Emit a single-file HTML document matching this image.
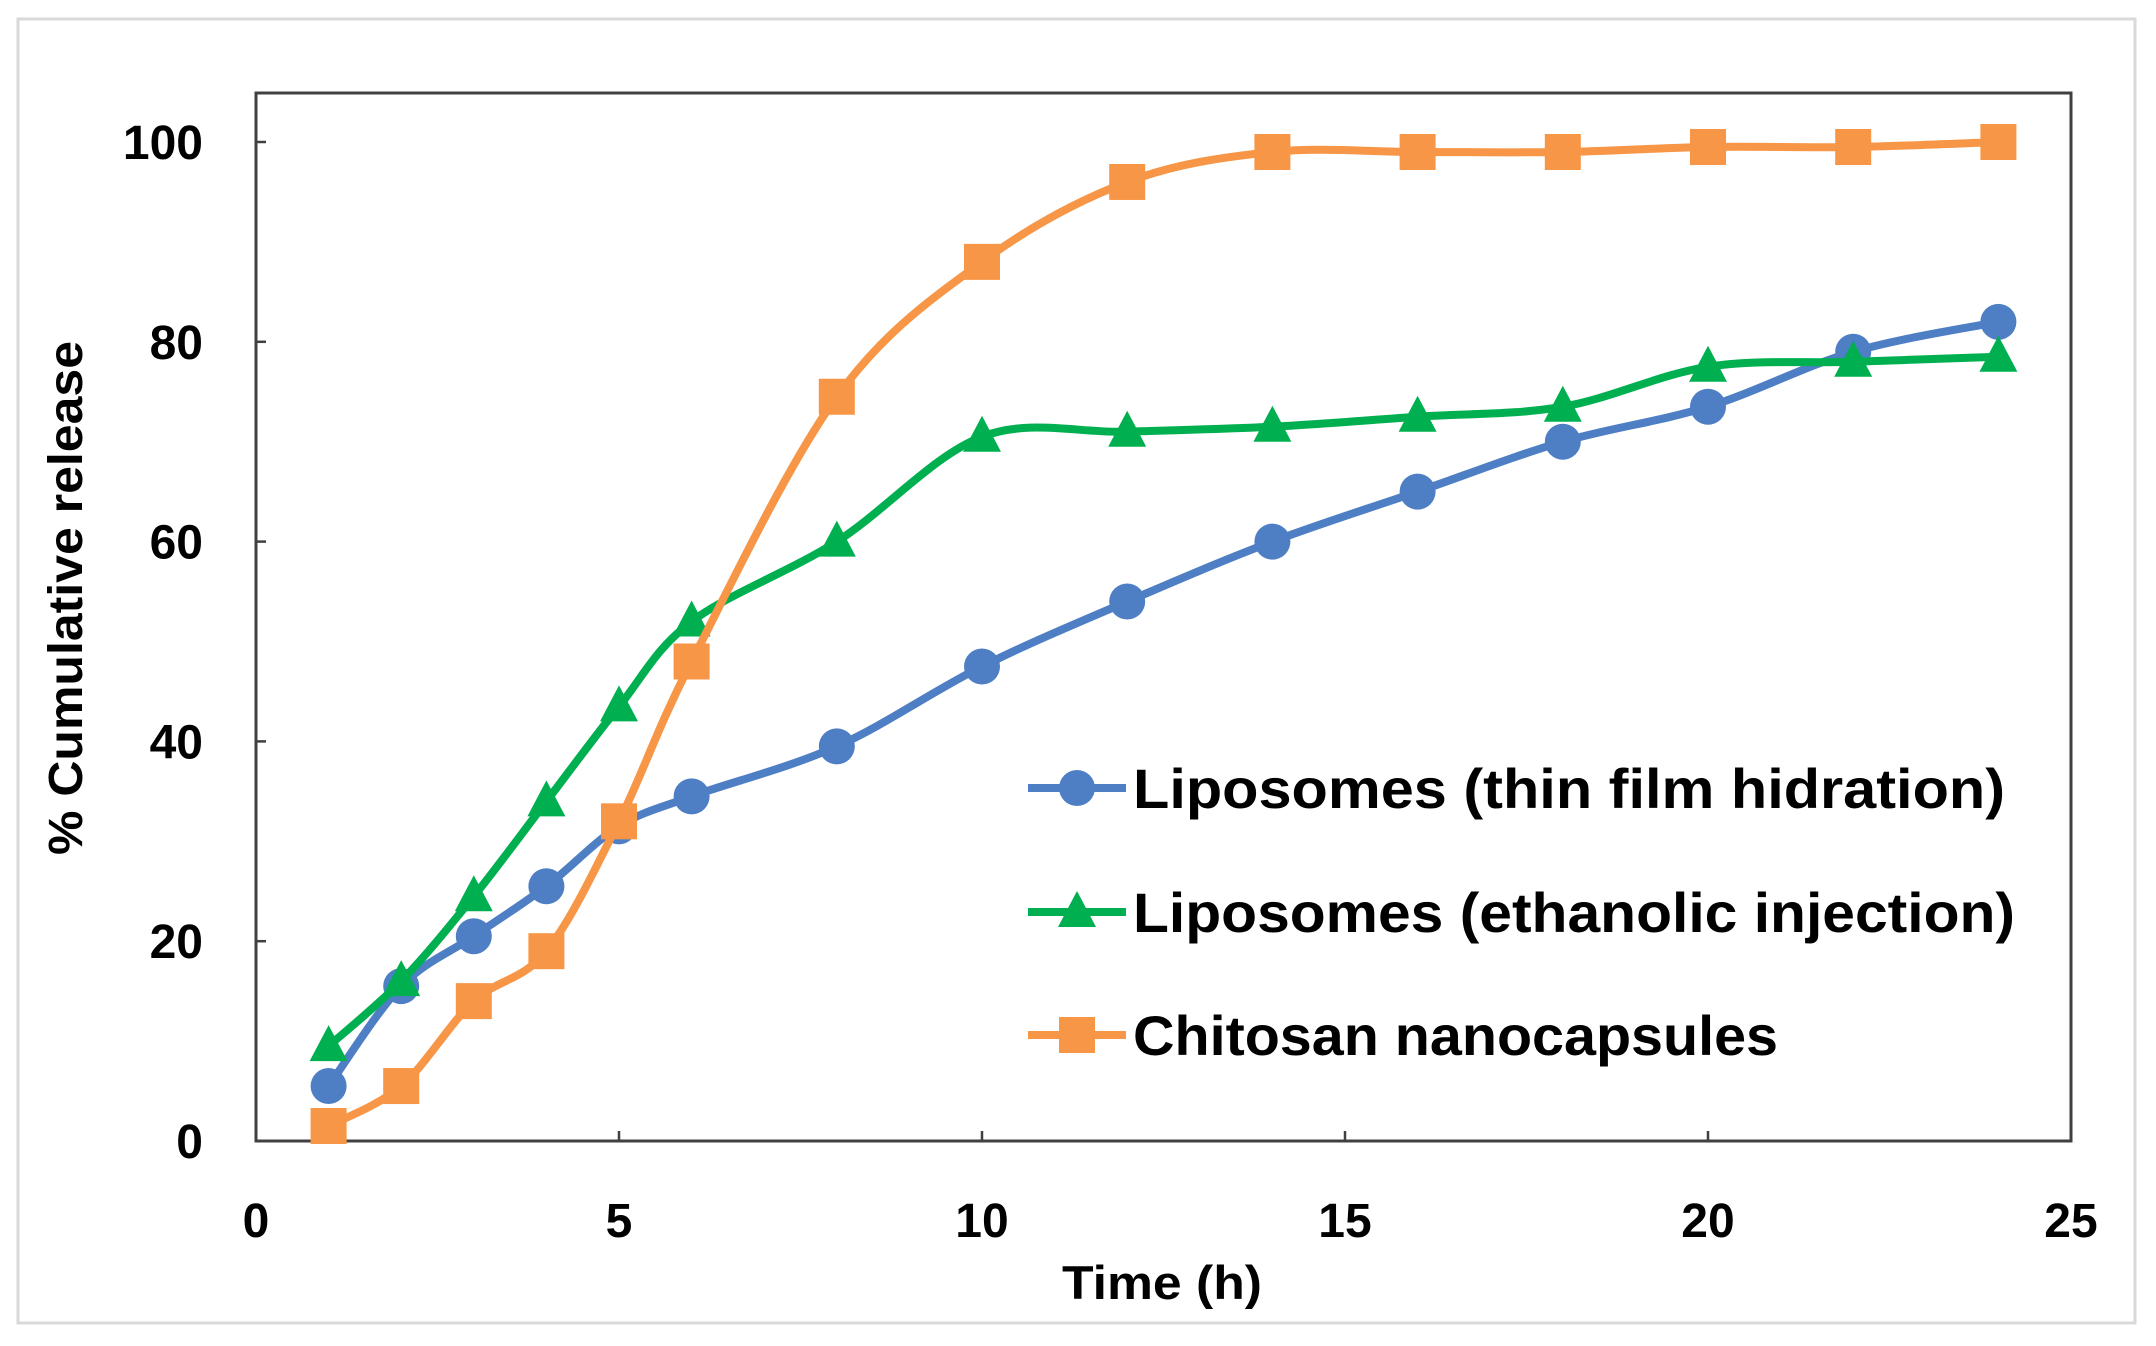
<!DOCTYPE html>
<html><head><meta charset="utf-8"><style>
html,body{margin:0;padding:0;background:#fff;}
svg{display:block;}
text{font-family:"Liberation Sans",sans-serif;font-weight:bold;fill:#000;}
</style></head><body>
<svg id="s" width="2156" height="1346" viewBox="0 0 2156 1346" xmlns="http://www.w3.org/2000/svg">
<rect x="0" y="0" width="2156" height="1346" fill="#fff"/>
<rect x="18" y="19" width="2117" height="1304" fill="none" stroke="#d9d9d9" stroke-width="3"/>
<rect x="256" y="93" width="1815" height="1048" fill="none" stroke="#404040" stroke-width="3"/>
<g id="ticks" stroke="#404040" stroke-width="2.5"></g>
<g id="labels"></g>
<text x="1162" y="1299" font-size="47" text-anchor="middle" textLength="200" lengthAdjust="spacingAndGlyphs">Time (h)</text>
<text transform="translate(82,598) rotate(-90)" font-size="48" text-anchor="middle" textLength="514" lengthAdjust="spacingAndGlyphs">% Cumulative release</text>
<g id="series"></g>
<g id="legend"></g>
</svg>
<script>
var NS="http://www.w3.org/2000/svg";
function X(t){return 256+72.6*t;}
function Y(v){return 1141-9.99*v;}
function el(n,a,p){var e=document.createElementNS(NS,n);for(var k in a)e.setAttribute(k,a[k]);p.appendChild(e);return e;}
var tk=document.getElementById('ticks'),lb=document.getElementById('labels');
for(var v=0;v<=100;v+=20){el('line',{x1:256,x2:266,y1:Y(v),y2:Y(v)},tk);
 var t=el('text',{x:203,y:Y(v)+17,'text-anchor':'end','font-size':48},lb);t.textContent=v;}
for(var h=0;h<=25;h+=5){el('line',{x1:X(h),x2:X(h),y1:1141,y2:1131},tk);
 var t=el('text',{x:X(h),y:1237,'text-anchor':'middle','font-size':48},lb);t.textContent=h;}
var T=[1,2,3,4,5,6,8,10,12,14,16,18,20,22,24];
var S=[
 {c:'#4e7ec4',m:'c',d:[5.5,15.5,20.5,25.5,31.5,34.5,39.5,47.5,54,60,65,70,73.5,79,82]},
 {c:'#00b050',m:'t',d:[9.5,16,24.5,34,43.5,52,60,70.5,71,71.5,72.5,73.5,77.5,78,78.5]},
 {c:'#f79646',m:'s',d:[1.5,5.5,14,19,32,48,74.5,88,96,99,99,99,99.5,99.5,100]}];
var sg=document.getElementById('series');
function marker(m,x,y,c,g){
 if(m=='c')el('circle',{cx:x,cy:y,r:18,fill:c},g);
 else if(m=='s')el('rect',{x:x-18,y:y-18,width:36,height:36,fill:c},g);
 else el('polygon',{points:(x)+','+(y-21)+' '+(x+19)+','+(y+15)+' '+(x-19)+','+(y+15),fill:c},g);
}
S.forEach(function(s){
 var P=T.map(function(t,i){return [X(t),Y(s.d[i])];});
 var d='M'+P[0][0]+','+P[0][1];
 for(var i=0;i<P.length-1;i++){
  var p0=P[Math.max(0,i-1)],p1=P[i],p2=P[i+1],p3=P[Math.min(P.length-1,i+2)];
  var k=1/6;
  var c1=[p1[0]+(p2[0]-p0[0])*k,p1[1]+(p2[1]-p0[1])*k];
  var c2=[p2[0]-(p3[0]-p1[0])*k,p2[1]-(p3[1]-p1[1])*k];
  d+=' C'+c1+' '+c2+' '+p2;
 }
 el('path',{d:d,fill:'none',stroke:s.c,'stroke-width':8,'stroke-linejoin':'round'},sg);
 P.forEach(function(p){marker(s.m,p[0],p[1],s.c,sg);});
});
var lg=document.getElementById('legend');
var L=[['Liposomes (thin film hidration)',788,872],['Liposomes (ethanolic injection)',912,882],['Chitosan nanocapsules',1035,645]];
L.forEach(function(l,i){
 el('line',{x1:1028,x2:1126,y1:l[1],y2:l[1],stroke:S[i].c,'stroke-width':8},lg);
 marker(S[i].m,1077,l[1],S[i].c,lg);
 var t=el('text',{x:1133,y:l[1]+20,'font-size':56,textLength:l[2],lengthAdjust:'spacingAndGlyphs'},lg);t.textContent=l[0];
});
</script>
</body></html>
